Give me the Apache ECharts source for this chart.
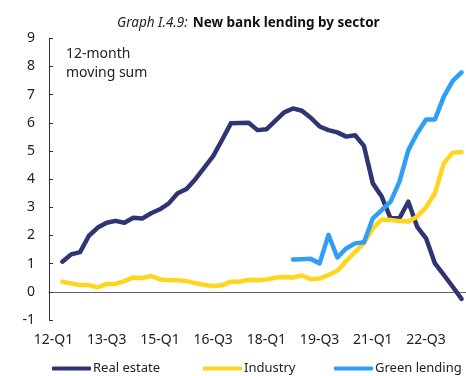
<!DOCTYPE html>
<html>
<head>
<meta charset="utf-8">
<script src="https://cdn.jsdelivr.net/npm/echarts@6/dist/echarts.min.js"></script>
<style>
    html, body { margin: 0; padding: 0; background: #fff; }
    #chart { width: 466px; height: 376px; }
</style>
</head>
<body>
<div id="chart"></div>
<script>
// quarters, 12-Q1 .. 23-Q3
var quarters = [
    '12-Q1', '12-Q2', '12-Q3', '12-Q4', '13-Q1', '13-Q2', '13-Q3', '13-Q4',
    '14-Q1', '14-Q2', '14-Q3', '14-Q4', '15-Q1', '15-Q2', '15-Q3', '15-Q4',
    '16-Q1', '16-Q2', '16-Q3', '16-Q4', '17-Q1', '17-Q2', '17-Q3', '17-Q4',
    '18-Q1', '18-Q2', '18-Q3', '18-Q4', '19-Q1', '19-Q2', '19-Q3', '19-Q4',
    '20-Q1', '20-Q2', '20-Q3', '20-Q4', '21-Q1', '21-Q2', '21-Q3', '21-Q4',
    '22-Q1', '22-Q2', '22-Q3', '22-Q4', '23-Q1', '23-Q2', '23-Q3'
];

var realEstate = [
    null, 1.07, 1.33, 1.41, 1.99, 2.28, 2.45, 2.52, 2.45, 2.63,
    2.60, 2.79, 2.93, 3.14, 3.50, 3.65, 4.00, 4.41, 4.82, 5.39,
    5.98, 5.99, 6.00, 5.74, 5.77, 6.07, 6.37, 6.51, 6.43, 6.18,
    5.87, 5.74, 5.66, 5.51, 5.56, 5.18, 3.85, 3.38, 2.61, 2.61,
    3.20, 2.31, 1.90, 1.01, 0.60, 0.18, -0.25
];

var industry = [
    null, 0.36, 0.30, 0.24, 0.24, 0.16, 0.28, 0.28, 0.38, 0.51,
    0.49, 0.56, 0.44, 0.41, 0.41, 0.38, 0.31, 0.24, 0.21, 0.23,
    0.36, 0.36, 0.43, 0.41, 0.44, 0.50, 0.53, 0.51, 0.58, 0.45,
    0.47, 0.60, 0.75, 1.09, 1.42, 1.72, 2.25, 2.57, 2.55, 2.51,
    2.50, 2.67, 3.00, 3.50, 4.56, 4.94, 4.96
];

var greenLending = [
    null, null, null, null, null, null, null, null, null, null,
    null, null, null, null, null, null, null, null, null, null,
    null, null, null, null, null, null, null, 1.15, 1.16, 1.17,
    1.01, 2.02, 1.22, 1.54, 1.72, 1.76, 2.61, 2.90, 3.20, 3.91,
    5.03, 5.63, 6.12, 6.12, 6.93, 7.49, 7.79
];

var font = 'Noto Sans';
var colors = ['#2e3572', '#ffd520', '#2f9ff5'];

function lineSeries(name, data, color) {
    return {
        name: name,
        type: 'line',
        data: data,
        symbol: 'none',
        connectNulls: false,
        lineStyle: { width: 4.5, color: color, cap: 'round', join: 'round' },
        itemStyle: { color: color }
    };
}

function legendAt(name, left) {
    return {
        data: [name],
        left: left,
        top: 361,
        padding: 0,
        icon: 'roundRect',
        itemWidth: 39,
        itemHeight: 4,
        textStyle: { fontFamily: font, fontSize: 13, lineHeight: 15, color: '#222', padding: [0, 0, 0, -3] }
    };
}

var chart = echarts.init(document.getElementById('chart'));
var option = {
    animation: false,
    title: {
        text: '{i|Graph I.4.9:} {b|New bank lending by sector}',
        left: 112,
        top: 9,
        textStyle: {
            rich: {
                i: { fontFamily: font, fontSize: 13.5, fontStyle: 'italic', fontWeight: 'normal', color: '#222' },
                b: { fontFamily: font, fontSize: 13.5, fontWeight: 'bold', color: '#111' }
            }
        }
    },
    graphic: [{
        type: 'text',
        left: 66,
        top: 45,
        style: {
            text: '12-month\nmoving sum',
            fontFamily: font,
            fontSize: 14,
            lineHeight: 19,
            fill: '#222'
        }
    }],
    legend: [
        legendAt('Real estate', 52),
        legendAt('Industry', 203),
        legendAt('Green lending', 334)
    ],
    grid: { left: 49, top: 38.3, width: 420, height: 281.7 },
    xAxis: {
        type: 'category',
        data: quarters,
        boundaryGap: true,
        axisLine: { lineStyle: { color: '#666', width: 1 } },
        axisTick: { inside: true, length: 4, interval: 5, lineStyle: { color: '#333' } },
        axisLabel: { interval: 5, margin: 13, fontFamily: font, fontSize: 14, color: '#222' },
        splitLine: { show: false }
    },
    yAxis: {
        type: 'value',
        min: -1,
        max: 9,
        interval: 1,
        axisLine: { show: true, lineStyle: { color: '#333', width: 1 } },
        axisTick: { show: true, inside: true, length: 4, lineStyle: { color: '#333' } },
        axisLabel: { margin: 14, fontFamily: font, fontSize: 14, color: '#222' },
        splitLine: { show: false }
    },
    series: [
        lineSeries('Real estate', realEstate, colors[0]),
        lineSeries('Industry', industry, colors[1]),
        lineSeries('Green lending', greenLending, colors[2])
    ]
};
chart.setOption(option);
</script>
</body>
</html>
